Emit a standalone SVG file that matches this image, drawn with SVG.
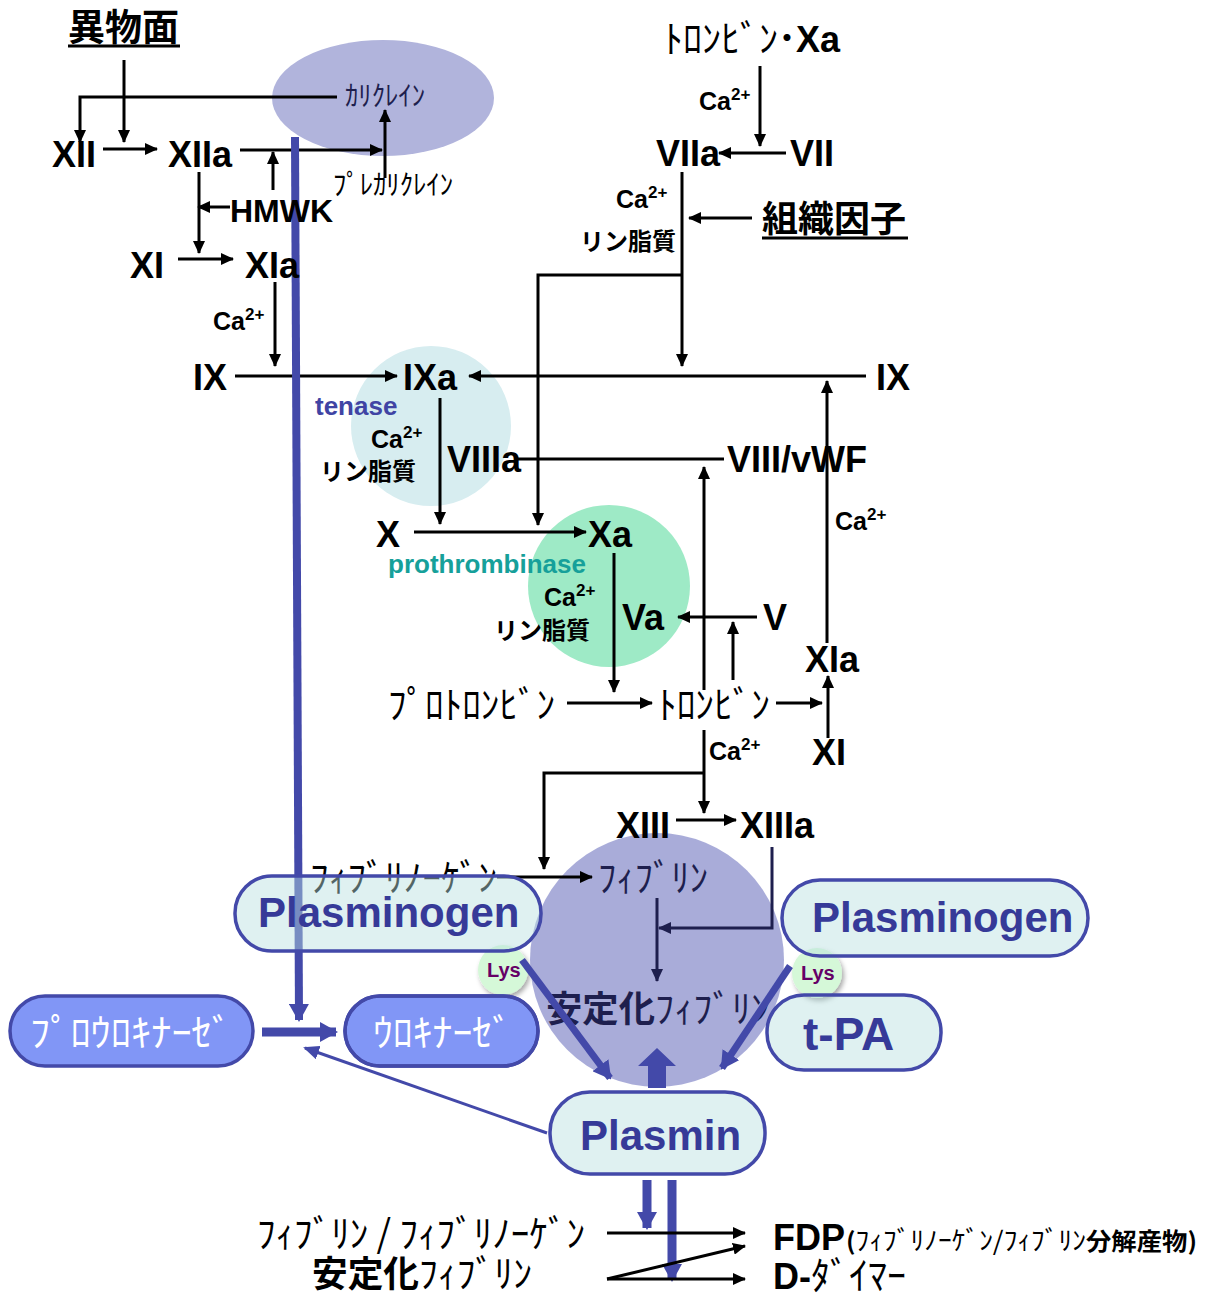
<svg xmlns="http://www.w3.org/2000/svg" width="1207" height="1295" viewBox="0 0 1207 1295">
<style>
.l{font-family:"Liberation Sans",Arial,sans-serif;font-weight:bold;fill:#000}
.f{font-size:36px}
.m{font-size:32px}
.ca{font-family:"Liberation Sans",Arial,sans-serif;font-weight:bold;font-size:25px;fill:#000}
.sup{font-size:17px}
.jb{font-family:"Noto Sans CJK JP",sans-serif;font-weight:bold;fill:#000}
.jk{font-family:"Noto Sans CJK JP",sans-serif;font-weight:normal;fill:#000}
.navy{fill:#1e1f4e}
.ln{fill:none;stroke:#000;stroke-width:3}
.lnn{fill:none;stroke:#1e1f4e;stroke-width:3}
.bl{fill:none;stroke:#4349a9}
.pill{fill:#b8e0e0;fill-opacity:0.45;stroke:#4349a9;stroke-width:3.5}
.upill{fill:#8196f6;stroke:#4349a9;stroke-width:3.5}
.pt{font-family:"Liberation Sans",Arial,sans-serif;font-weight:bold;fill:#363a98}
.wt{font-family:"Noto Sans CJK JP",sans-serif;fill:#fff;font-size:38px}
.lys{fill:#d5f8d8}
.lyst{font-family:"Liberation Sans",Arial,sans-serif;font-weight:bold;font-size:20px;fill:#660066}
</style>
<defs>
<marker id="ah" markerUnits="userSpaceOnUse" markerWidth="13" markerHeight="12" refX="12" refY="6" orient="auto"><path d="M0,0 L13,6 L0,12 z" fill="#000"/></marker>
<marker id="ahn" markerUnits="userSpaceOnUse" markerWidth="13" markerHeight="12" refX="12" refY="6" orient="auto"><path d="M0,0 L13,6 L0,12 z" fill="#1e1f4e"/></marker>
<marker id="ahb" markerUnits="userSpaceOnUse" markerWidth="18" markerHeight="20" refX="16" refY="10" orient="auto"><path d="M0,0 L18,10 L0,20 z" fill="#4349a9"/></marker>
<marker id="ahs" markerUnits="userSpaceOnUse" markerWidth="16" markerHeight="14" refX="14" refY="7" orient="auto"><path d="M0,0 L16,7 L0,14 z" fill="#4349a9"/></marker>
<filter id="sh" x="-30%" y="-30%" width="170%" height="170%"><feDropShadow dx="2" dy="3" stdDeviation="2.5" flood-color="#000" flood-opacity="0.35"/></filter>
<clipPath id="ucl"><rect x="345" y="996" width="193" height="70" rx="35"/></clipPath>
</defs>
<rect width="1207" height="1295" fill="#fff"/>

<!-- background shapes -->
<g id="complexes">
<ellipse id="kallikrein-bg" cx="383" cy="98" rx="111" ry="58" fill="#b1b4dc"/>
<circle id="tenase-bg" cx="431" cy="426" r="80" fill="#d7edf0"/>
<circle id="prothrombinase-bg" cx="609" cy="586" r="81" fill="#9eeac6"/>
<circle cx="503" cy="970" r="25" class="lys" filter="url(#sh)"/>
<circle cx="817" cy="973" r="25" class="lys" filter="url(#sh)"/>
<circle id="fibrin-bg" cx="657" cy="960" r="127" fill="#9397cf" fill-opacity="0.8"/>
</g>

<!-- connectors -->
<g id="connectors">
<path class="ln" d="M124,60 V142" marker-end="url(#ah)"/>
<path class="ln" d="M337,97 H80 V142" marker-end="url(#ah)"/>
<path class="ln" d="M103,149 H157" marker-end="url(#ah)"/>
<path class="ln" d="M240,150 H382" marker-end="url(#ah)"/>
<path class="ln" d="M385,178 V110" marker-end="url(#ah)"/>
<path class="ln" d="M273,190 V152" marker-end="url(#ah)"/>
<path class="ln" d="M230,207 H198" marker-end="url(#ah)"/>
<path class="ln" d="M199,172 V253" marker-end="url(#ah)"/>
<path class="ln" d="M178,259 H233" marker-end="url(#ah)"/>
<path class="ln" d="M275,282 V366" marker-end="url(#ah)"/>
<path class="ln" d="M235,376 H397" marker-end="url(#ah)"/>
<path class="ln" d="M682,172 V366" marker-end="url(#ah)"/>
<path class="ln" d="M682,275 H538 V525" marker-end="url(#ah)"/>
<path class="ln" d="M752,218 H689" marker-end="url(#ah)"/>
<path class="ln" d="M760,66 V146" marker-end="url(#ah)"/>
<path class="ln" d="M786,153 H719" marker-end="url(#ah)"/>
<path class="ln" d="M866,376 H469" marker-end="url(#ah)"/>
<path class="ln" d="M724,459 H518"/>
<path class="ln" d="M440,398 V524" marker-end="url(#ah)"/>
<path class="ln" d="M414,532 H586" marker-end="url(#ah)"/>
<path class="ln" d="M757,617 H678" marker-end="url(#ah)"/>
<path class="ln" d="M614,553 V692" marker-end="url(#ah)"/>
<path class="ln" d="M567,703 H652" marker-end="url(#ah)"/>
<path class="ln" d="M776,703 H822" marker-end="url(#ah)"/>
<path class="ln" d="M704,690 V467" marker-end="url(#ah)"/>
<path class="ln" d="M733,680 V622" marker-end="url(#ah)"/>
<path class="ln" d="M828,738 V676" marker-end="url(#ah)"/>
<path class="ln" d="M827,643 V381" marker-end="url(#ah)"/>
<path class="ln" d="M704,730 V813" marker-end="url(#ah)"/>
<path class="ln" d="M704,773 H544 V869" marker-end="url(#ah)"/>
<path class="ln" d="M676,820 H736" marker-end="url(#ah)"/>
<path class="ln" d="M497,877 H592" marker-end="url(#ah)"/>
<path class="lnn" d="M657,898 V981" marker-end="url(#ahn)"/>
<path class="lnn" d="M772,847 V928 H659" marker-end="url(#ahn)"/>
<path class="bl" stroke-width="8" d="M295,137 L299,1020" marker-end="url(#ahb)"/>
</g>

<!-- nodes -->
<g id="n-foreign"><text class="jb" x="68" y="41" font-size="37">異物面</text><path class="ln" d="M68,46 H180"/></g>
<g id="n-kallikrein"><text class="jk navy" x="345" y="106" font-size="28" textLength="80" lengthAdjust="spacingAndGlyphs">ｶﾘｸﾚｲﾝ</text></g>
<g id="n-prekallikrein"><text class="jk" x="333" y="195" font-size="28" textLength="120" lengthAdjust="spacingAndGlyphs">ﾌﾟﾚｶﾘｸﾚｲﾝ</text></g>
<g id="n-XII"><text class="l f" x="52" y="167">XII</text></g>
<g id="n-XIIa"><text class="l f" x="168" y="167">XIIa</text></g>
<g id="n-HMWK"><text class="l m" x="230" y="222">HMWK</text></g>
<g id="n-XI"><text class="l f" x="130" y="278">XI</text></g>
<g id="n-XIa"><text class="l f" x="245" y="278">XIa</text></g>
<g id="n-ca1"><text class="ca" x="213" y="330">Ca<tspan class="sup" dy="-10">2+</tspan></text></g>
<g id="n-IX"><text class="l f" x="193" y="390">IX</text></g>
<g id="n-IXa"><text class="l f" x="403" y="390">IXa</text></g>
<g id="n-tenase"><text class="l" x="315" y="415" font-size="26" style="fill:#4044a4">tenase</text>
<text class="ca" x="371" y="448">Ca<tspan class="sup" dy="-10">2+</tspan></text>
<text class="jb" x="320" y="480" font-size="24">リン脂質</text></g>
<g id="n-VIIIa"><text class="l f" x="447" y="472">VIIIa</text></g>
<g id="n-X"><text class="l f" x="376" y="547">X</text></g>
<g id="n-Xa"><text class="l f" x="588" y="547">Xa</text></g>
<g id="n-prothrombinase"><text class="l" x="388" y="573" font-size="26" style="fill:#16a09a">prothrombinase</text>
<text class="ca" x="544" y="606">Ca<tspan class="sup" dy="-10">2+</tspan></text>
<text class="jb" x="494" y="639" font-size="24">リン脂質</text></g>
<g id="n-Va"><text class="l f" x="622" y="630">Va</text></g>
<g id="n-V"><text class="l f" x="763" y="630">V</text></g>
<g id="n-prothrombin"><text class="jk" x="388" y="718" font-size="38" textLength="167" lengthAdjust="spacingAndGlyphs">ﾌﾟﾛﾄﾛﾝﾋﾞﾝ</text></g>
<g id="n-thrombin"><text class="jk" x="658" y="718" font-size="38" textLength="112" lengthAdjust="spacingAndGlyphs">ﾄﾛﾝﾋﾞﾝ</text></g>
<g id="n-XIa2"><text class="l f" x="805" y="672">XIa</text></g>
<g id="n-XI2"><text class="l f" x="812" y="765">XI</text></g>
<g id="n-ca-thr"><text class="ca" x="709" y="760">Ca<tspan class="sup" dy="-10">2+</tspan></text></g>
<g id="n-ca-xia"><text class="ca" x="835" y="530">Ca<tspan class="sup" dy="-10">2+</tspan></text></g>
<g id="n-IX2"><text class="l f" x="876" y="390">IX</text></g>
<g id="n-VIIIvWF"><text class="l f" x="727" y="472">VIII/vWF</text></g>
<g id="n-thrXa"><text x="664" y="52"><tspan class="jk" font-size="38">ﾄﾛﾝﾋﾞﾝ</tspan><tspan class="jb" font-size="36">･</tspan><tspan class="l f">Xa</tspan></text></g>
<g id="n-ca-vii"><text class="ca" x="699" y="110">Ca<tspan class="sup" dy="-10">2+</tspan></text></g>
<g id="n-VIIa"><text class="l f" x="656" y="166">VIIa</text></g>
<g id="n-VII"><text class="l f" x="790" y="166">VII</text></g>
<g id="n-ca-tf"><text class="ca" x="616" y="208">Ca<tspan class="sup" dy="-10">2+</tspan></text>
<text class="jb" x="580" y="250" font-size="24">リン脂質</text></g>
<g id="n-tissuefactor"><text class="jb" x="762" y="232" font-size="36">組織因子</text><path class="ln" d="M762,238 H908"/></g>
<g id="n-XIII"><text class="l f" x="616" y="838">XIII</text></g>
<g id="n-XIIIa"><text class="l f" x="740" y="838">XIIIa</text></g>
<g id="n-fibrinogen"><text class="jk" x="310" y="891" font-size="38" textLength="187" lengthAdjust="spacingAndGlyphs">ﾌｨﾌﾞﾘﾉｰｹﾞﾝ</text></g>
<g id="n-fibrin"><text class="jk navy" x="598" y="891" font-size="38" textLength="110" lengthAdjust="spacingAndGlyphs">ﾌｨﾌﾞﾘﾝ</text></g>
<g id="n-stabfibrin"><text x="546" y="1022" textLength="224" lengthAdjust="spacingAndGlyphs"><tspan class="jb navy" font-size="36">安定化</tspan><tspan class="jk navy" font-size="38">ﾌｨﾌﾞﾘﾝ</tspan></text></g>

<g id="n-plasminogen-l"><rect class="pill" x="235" y="876" width="306" height="75" rx="37"/><text class="pt" x="258" y="927" font-size="42">Plasminogen</text></g>
<g id="n-plasminogen-r"><rect class="pill" x="782" y="880" width="306" height="76" rx="38"/><text class="pt" x="812" y="932" font-size="42">Plasminogen</text></g>
<g id="n-tPA"><rect class="pill" x="767" y="995" width="174" height="75" rx="37"/><text class="pt" x="803" y="1050" font-size="46">t-PA</text></g>
<g id="n-prourokinase"><rect class="upill" x="10" y="996" width="243" height="70" rx="35"/><text class="wt" x="30" y="1046" textLength="202" lengthAdjust="spacingAndGlyphs">ﾌﾟﾛｳﾛｷﾅｰｾﾞ</text></g>
<g id="n-urokinase"><rect class="upill" x="345" y="996" width="193" height="70" rx="35"/><circle cx="657" cy="960" r="127" fill="#5670e4" clip-path="url(#ucl)"/><rect x="345" y="996" width="193" height="70" rx="35" fill="none" stroke="#4349a9" stroke-width="3.5"/><text class="wt" x="373" y="1046" textLength="139" lengthAdjust="spacingAndGlyphs">ｳﾛｷﾅｰｾﾞ</text></g>
<g id="n-plasmin"><rect class="pill" style="fill:#dff1f1;fill-opacity:1" x="550" y="1092" width="215" height="82" rx="40"/><text class="pt" x="580" y="1150" font-size="42">Plasmin</text></g>

<g id="n-lys-l"><text class="lyst" x="487" y="977">Lys</text></g>
<g id="n-lys-r"><text class="lyst" x="801" y="980">Lys</text></g>

<g id="n-fdp-src"><text class="jk" x="257" y="1247" font-size="38" textLength="328" lengthAdjust="spacingAndGlyphs">ﾌｨﾌﾞﾘﾝ / ﾌｨﾌﾞﾘﾉｰｹﾞﾝ</text></g>
<g id="n-dd-src"><text x="312" y="1287" textLength="220" lengthAdjust="spacingAndGlyphs"><tspan class="jb" font-size="36">安定化</tspan><tspan class="jk" font-size="38">ﾌｨﾌﾞﾘﾝ</tspan></text></g>
<g id="n-FDP"><text class="l f" x="773" y="1250">FDP</text><text x="846" y="1250" textLength="351" lengthAdjust="spacingAndGlyphs"><tspan class="jb" font-size="24">(</tspan><tspan class="jk" font-size="26">ﾌｨﾌﾞﾘﾉｰｹﾞﾝ/ﾌｨﾌﾞﾘﾝ</tspan><tspan class="jb" font-size="24">分解産物)</tspan></text></g>
<g id="n-Ddimer"><text x="773" y="1289"><tspan class="l f">D-</tspan><tspan class="jk" font-size="38">ﾀﾞｲﾏｰ</tspan></text></g>

<!-- fibrinolysis connectors -->
<g id="connectors-fibrinolysis">
<path class="bl" stroke-width="7" d="M522,960 L610,1078" marker-end="url(#ahb)"/>
<path class="bl" stroke-width="7" d="M790,966 L722,1068" marker-end="url(#ahb)"/>
<path d="M648,1088 V1066 H638 L657,1048 L676,1066 H666 V1088 z" fill="#4349a9"/>
<path class="bl" stroke-width="9" d="M262,1032 H336" marker-end="url(#ahb)"/>
<path class="bl" stroke-width="3" d="M547,1133 L305,1048" marker-end="url(#ahs)"/>
<path class="bl" stroke-width="9" d="M647,1180 V1228" marker-end="url(#ahb)"/>
<path class="bl" stroke-width="9" d="M672,1180 V1280" marker-end="url(#ahb)"/>
<path class="ln" stroke-width="5" d="M607,1233 H745" marker-end="url(#ah)"/>
<path class="ln" stroke-width="5" d="M607,1279 H745" marker-end="url(#ah)"/>
<path class="ln" stroke-width="5" d="M607,1279 L745,1246" marker-end="url(#ah)"/>
</g>
</svg>
